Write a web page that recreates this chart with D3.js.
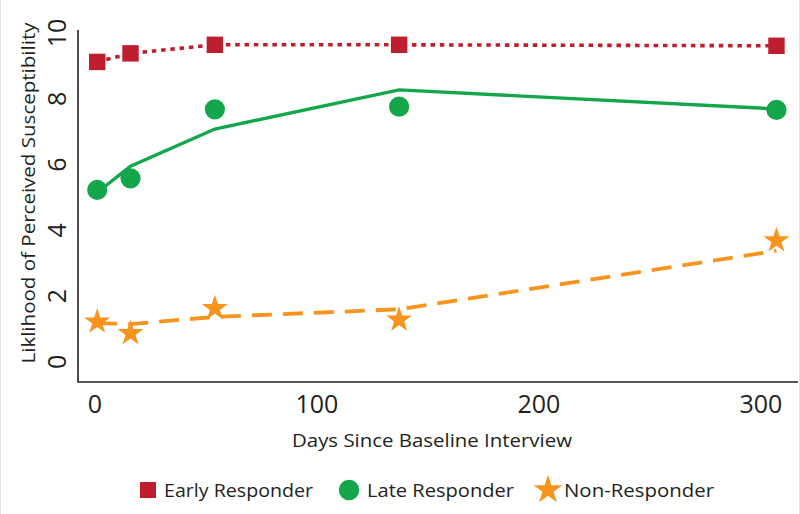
<!DOCTYPE html>
<html>
<head>
<meta charset="utf-8">
<script src="https://cdn.jsdelivr.net/npm/d3@7"></script>
<style>
  html, body { margin: 0; padding: 0; background: #fff; }
  svg { display: block; font-family: "Open Sans", "Noto Sans", sans-serif; }
</style>
</head>
<body>
<svg id="chart" width="800" height="514"></svg>
<script>
// ---- data ----
const days = [1, 16, 54, 137, 307];
const seriesNames = ["Early Responder", "Late Responder", "Non-Responder"];
const earlyPoints = [9.12, 9.38, 9.64, 9.64, 9.61];
const latePoints  = [5.23, 5.58, 7.68, 7.76, 7.66];
const nonPoints   = [1.22, 0.87, 1.63, 1.28, 3.69];
const earlyFit = [9.12, 9.38, 9.64, 9.64, 9.61];
const lateFit  = [5.15, 5.95, 7.08, 8.27, 7.69];
const nonFit   = [1.18, 1.15, 1.37, 1.60, 3.38];
const xTicks = [0, 100, 200, 300];
const yTicks = [0, 2, 4, 6, 8, 10];
const xTitle = "Days Since Baseline Interview";
const yTitle = "Liklihood of Perceived Susceptibility";

const colors = ["#be1e2d", "#13a64b", "#f7941d"];

const svg = d3.select("#chart");

// faint frame edges
svg.append("line").attr("x1", 0.5).attr("x2", 0.5).attr("y1", 0).attr("y2", 514)
  .attr("stroke", "#e4e4e4").attr("stroke-width", 1);
svg.append("line").attr("x1", 799.5).attr("x2", 799.5).attr("y1", 0).attr("y2", 514)
  .attr("stroke", "#e4e4e4").attr("stroke-width", 1);

const x = d3.scaleLinear().domain([-7.66, 316.7]).range([78, 798]);
const y = d3.scaleLinear().domain([-0.61, 10.09]).range([382, 30]);

// axes lines
svg.append("path")
  .attr("d", `M${x.range()[0]},${y.range()[1]}V${y.range()[0]}H${x.range()[1]}`)
  .attr("fill", "none").attr("stroke", "#231f20").attr("stroke-width", 1.6);

// x tick labels
svg.append("g").selectAll("text").data(xTicks).join("text")
  .attr("x", d => x(d)).attr("y", 403)
  .attr("text-anchor", "middle").attr("dominant-baseline", "central")
  .attr("font-size", 25).attr("fill", "#231f20")
  .text(d => d);

// y tick labels (rotated)
svg.append("g").selectAll("text").data(yTicks).join("text")
  .attr("transform", d => `translate(56,${y(d)}) rotate(-90)`)
  .attr("text-anchor", "middle").attr("dominant-baseline", "central")
  .attr("font-size", 25).attr("fill", "#231f20")
  .text(d => d);

// axis titles
svg.append("text")
  .attr("x", 432).attr("y", 440)
  .attr("text-anchor", "middle").attr("dominant-baseline", "central")
  .attr("font-size", 18).attr("fill", "#231f20")
  .attr("textLength", 280).attr("lengthAdjust", "spacingAndGlyphs")
  .text(xTitle);

svg.append("text")
  .attr("transform", "translate(28,193) rotate(-90)")
  .attr("text-anchor", "middle").attr("dominant-baseline", "central")
  .attr("font-size", 19).attr("fill", "#231f20")
  .attr("textLength", 341).attr("lengthAdjust", "spacingAndGlyphs")
  .text(yTitle);

// lines
const line = d3.line().x((d, i) => x(days[i])).y(d => y(d));
const fits = [earlyFit, lateFit, nonFit];
const dashes = ["4.5,4.8", null, "20,11"];
const widths = [3.6, 3.4, 3.8];
fits.forEach((f, k) => {
  const p = svg.append("path").attr("d", line(f))
    .attr("fill", "none").attr("stroke", colors[k])
    .attr("stroke-width", widths[k]);
  if (dashes[k]) p.attr("stroke-dasharray", dashes[k]);
});

// markers
const symbols = [d3.symbolSquare, d3.symbolCircle, d3.symbolStar];
const sizes = [270, 320, 210];
const pts = [earlyPoints, latePoints, nonPoints];
pts.forEach((arr, k) => {
  svg.append("g").selectAll("path").data(arr).join("path")
    .attr("transform", (d, i) => `translate(${x(days[i])},${y(d)})`)
    .attr("d", d3.symbol().type(symbols[k]).size(sizes[k]))
    .attr("fill", colors[k]);
});

// legend
const legendItems = [
  { sx: 148, tx: 164, tw: 149 },
  { sx: 349, tx: 367, tw: 147 },
  { sx: 548, tx: 564, tw: 150 }
];
const lg = svg.append("g");
legendItems.forEach((it, k) => {
  lg.append("path")
    .attr("transform", `translate(${it.sx},490)`)
    .attr("d", d3.symbol().type(symbols[k]).size(k === 0 ? 256 : (k === 1 ? 330 : 260)))
    .attr("fill", colors[k]);
  lg.append("text")
    .attr("x", it.tx).attr("y", 490)
    .attr("dominant-baseline", "central")
    .attr("font-size", 18).attr("fill", "#231f20")
    .attr("textLength", it.tw).attr("lengthAdjust", "spacingAndGlyphs")
    .text(seriesNames[k]);
});
</script>
</body>
</html>
